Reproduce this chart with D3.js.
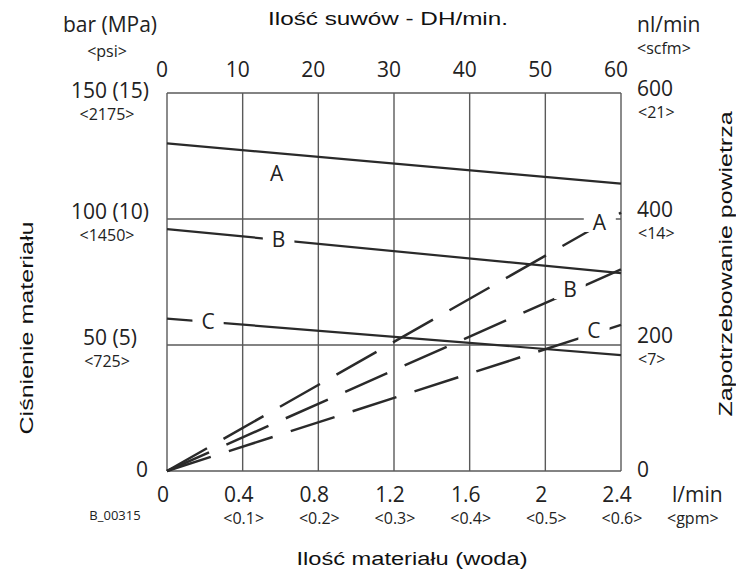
<!DOCTYPE html>
<html>
<head>
<meta charset="utf-8">
<script src="https://cdn.jsdelivr.net/npm/d3@7"></script>
<style>
body { margin: 0; background: #fff; }
</style>
</head>
<body>
<div id="chart"></div>
<script>
// Axis ticks and labels
var flowTicks = [0, 0.4, 0.8, 1.2, 1.6, 2, 2.4];
var flowLabels = ["0", "0.4", "0.8", "1.2", "1.6", "2", "2.4"];
var gpmLabels = ["", "<0.1>", "<0.2>", "<0.3>", "<0.4>", "<0.5>", "<0.6>"];
var strokeTicks = [0, 10, 20, 30, 40, 50, 60];
var pressureTicks = [0, 50, 100, 150];
var pressureLabels = ["0", "50 (5)", "100 (10)", "150 (15)"];
var psiLabels = ["", "<725>", "<1450>", "<2175>"];
var airTicks = [0, 200, 400, 600];
var airLabels = ["0", "200", "400", "600"];
var scfmLabels = ["", "<7>", "<14>", "<21>"];

// Series: [flow l/min, value]
var seriesNames = ["A", "B", "C"];
var pressureA = [[0, 130], [2.4, 114]];
var pressureB = [[0, 96], [2.4, 78.5]];
var pressureC = [[0, 60.5], [2.4, 46]];
var airA = [[0, 0], [2.4, 410]];
var airB = [[0, 0], [2.4, 320]];
var airC = [[0, 0], [2.4, 232]];

var svgWidth = 736, svgHeight = 577;
var labelFont = "'Open Sans', sans-serif";
var titleFont = "'Liberation Sans', Arial, sans-serif";
var ink = "#222";
var lineCol = "#2a2a2a";
var gridCol = "#5a5a5a";
var subSize = 16, subGap = 22;

var svg = d3.select("#chart").append("svg").attr("width", svgWidth).attr("height", svgHeight);

// scales
var x = d3.scaleLinear().domain([0, 2.4]).range([167, 621]);
var xTop = d3.scaleLinear().domain([0, 60]).range([167, 621]);
var yP = d3.scaleLinear().domain([0, 150]).range([471, 93]);
var yA = d3.scaleLinear().domain([0, 600]).range([471, 93]);

// grid + frame
svg.selectAll(".vgrid").data(flowTicks).enter().append("line")
    .attr("x1", function(d) { return x(d); })
    .attr("x2", function(d) { return x(d); })
    .attr("y1", yP(0)).attr("y2", yP(150))
    .attr("stroke", gridCol).attr("stroke-width", 1.4);
svg.selectAll(".hgrid").data(pressureTicks).enter().append("line")
    .attr("x1", x(0)).attr("x2", x(2.4))
    .attr("y1", function(d) { return yP(d); })
    .attr("y2", function(d) { return yP(d); })
    .attr("stroke", gridCol).attr("stroke-width", 1.4);

// lines
var lineP = d3.line().x(function(d) { return x(d[0]); }).y(function(d) { return yP(d[1]); });
var lineA = d3.line().x(function(d) { return x(d[0]); }).y(function(d) { return yA(d[1]); });

[pressureA, pressureB, pressureC].forEach(function(s) {
    svg.append("path").attr("d", lineP(s))
        .attr("fill", "none").attr("stroke", lineCol).attr("stroke-width", 2.2);
});
[airA, airB, airC].forEach(function(s) {
    svg.append("path").attr("d", lineA(s))
        .attr("fill", "none").attr("stroke", lineCol).attr("stroke-width", 2.5)
        .attr("stroke-dasharray", "46,19");
});

// series labels, knocked out of the lines (flow position where the label sits)
function interp(s, f) {
    return s[0][1] + (s[1][1] - s[0][1]) * (f - s[0][0]) / (s[1][0] - s[0][0]);
}
function lineLabel(txt, cx, cy, knock) {
    var t = svg.append("text")
        .attr("x", cx).attr("y", cy)
        .attr("text-anchor", "middle").attr("dy", ".36em")
        .attr("font-family", labelFont).attr("font-size", 21)
        .attr("fill", ink).text(txt);
    if (knock) {
        var b = t.node().getBBox();
        svg.insert("rect", function() { return t.node(); })
            .attr("x", b.x - 9).attr("y", cy - 10)
            .attr("width", b.width + 18).attr("height", 20)
            .attr("fill", "#fff");
    }
}
var pressureSeries = [pressureA, pressureB, pressureC];
var airSeries = [airA, airB, airC];
var solidAt = [0.58, 0.59, 0.217];
var dashAt = [2.286, 2.13, 2.257];
seriesNames.forEach(function(n, i) {
    var f = solidAt[i];
    // A sits under its line, B and C break the line
    if (i == 0) lineLabel(n, x(f), yP(interp(pressureSeries[i], f)) + 20, false);
    else lineLabel(n, x(f), yP(interp(pressureSeries[i], f)), true);
    var g = dashAt[i];
    lineLabel(n, x(g), yA(interp(airSeries[i], g)) - 3, true);
});

// top axis
svg.selectAll(".topTick").data(strokeTicks).enter().append("text")
    .attr("x", function(d) { return xTop(d) - 5; })
    .attr("y", 77)
    .attr("text-anchor", "middle")
    .attr("font-family", labelFont).attr("font-size", 21).attr("fill", ink)
    .text(function(d) { return d; });

// bottom axis
svg.selectAll(".botTick").data(flowTicks).enter().append("text")
    .attr("x", function(d) { return x(d) - 4; })
    .attr("y", 502)
    .attr("text-anchor", "middle")
    .attr("font-family", labelFont).attr("font-size", 21).attr("fill", ink)
    .text(function(d, i) { return flowLabels[i]; });
svg.selectAll(".botSub").data(flowTicks).enter().append("text")
    .attr("x", function(d) { return x(d) + 1; })
    .attr("y", 524)
    .attr("text-anchor", "middle")
    .attr("font-family", labelFont).attr("font-size", subSize).attr("fill", ink)
    .text(function(d, i) { return gpmLabels[i]; });

// left axis
svg.selectAll(".leftTick").data(pressureTicks).enter().append("text")
    .attr("x", function(d) { return d == 0 ? 148 : 110; })
    .attr("y", function(d) { return d == 0 ? yP(d) + 6 : Math.max(yP(d), 98); })
    .attr("text-anchor", function(d) { return d == 0 ? "end" : "middle"; })
    .attr("font-family", labelFont).attr("font-size", 21).attr("fill", ink)
    .text(function(d, i) { return pressureLabels[i]; });
svg.selectAll(".leftSub").data(pressureTicks).enter().append("text")
    .attr("x", 107)
    .attr("y", function(d) { return Math.max(yP(d), 98) + subGap; })
    .attr("text-anchor", "middle")
    .attr("font-family", labelFont).attr("font-size", subSize).attr("fill", ink)
    .text(function(d, i) { return psiLabels[i]; });

// right axis
svg.selectAll(".rightTick").data(airTicks).enter().append("text")
    .attr("x", 637)
    .attr("y", function(d) { return d == 0 ? yA(d) + 6 : Math.max(yA(d) - 2, 96); })
    .attr("font-family", labelFont).attr("font-size", 21).attr("fill", ink)
    .text(function(d, i) { return airLabels[i]; });
svg.selectAll(".rightSub").data(airTicks).enter().append("text")
    .attr("x", 638)
    .attr("y", function(d) { return Math.max(yA(d) - 2, 96) + subGap; })
    .attr("font-family", labelFont).attr("font-size", subSize).attr("fill", ink)
    .text(function(d, i) { return scfmLabels[i]; });

// unit labels
function unit(txt, ux, uy, size, anchor) {
    svg.append("text").attr("x", ux).attr("y", uy)
        .attr("text-anchor", anchor)
        .attr("font-family", labelFont).attr("font-size", size).attr("fill", ink)
        .text(txt);
}
unit("bar (MPa)", 110, 32, 21, "middle");
unit("<psi>", 107, 57, subSize, "middle");
unit("nl/min", 637, 32, 21, "start");
unit("<scfm>", 637, 54, subSize, "start");
unit("l/min", 672, 502, 21, "start");
unit("<gpm>", 667, 524, subSize, "start");
unit("B_00315", 115, 520, 13, "middle");

// axis titles (stretched wide like the original)
function title(txt, tx, ty, len, rot) {
    svg.append("text")
        .attr("transform", "translate(" + tx + "," + ty + ")" + (rot ? " rotate(-90)" : ""))
        .attr("text-anchor", "middle")
        .attr("font-family", titleFont).attr("font-size", 18).attr("fill", "#111")
        .attr("textLength", len).attr("lengthAdjust", "spacingAndGlyphs")
        .text(txt);
}
title("Ilość suwów - DH/min.", 388, 25, 240, false);
title("Ilość materiału (woda)", 412, 565, 231, false);
title("Ciśnienie materiału", 33, 328, 213, true);
title("Zapotrzebowanie powietrza", 732, 264, 305, true);
</script>
</body>
</html>
